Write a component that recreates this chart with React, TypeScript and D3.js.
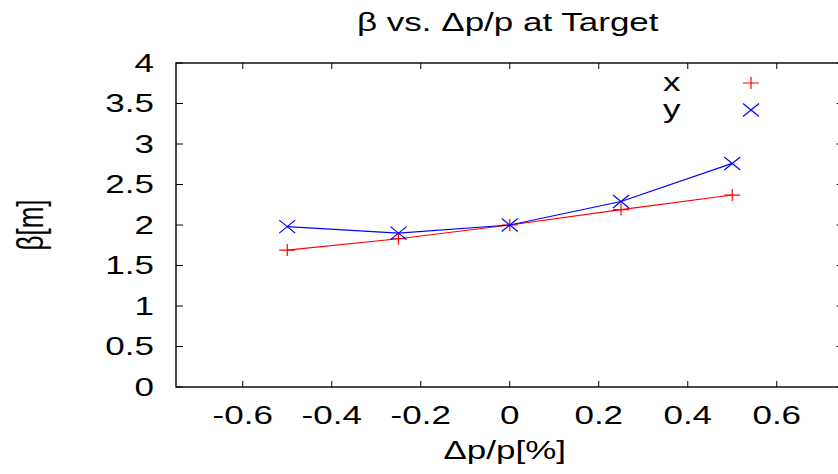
import React from "react";
import * as d3 from "d3";

const dpValues = [-0.5, -0.25, 0, 0.25, 0.5];
const betaX = [1.69, 1.83, 2.0, 2.19, 2.37];
const betaY = [1.98, 1.9, 2.0, 2.29, 2.76];
const xTicks = [-0.6, -0.4, -0.2, 0, 0.2, 0.4, 0.6];
const yTicks = [0, 0.5, 1, 1.5, 2, 2.5, 3, 3.5, 4];
const seriesNames = ["x", "y"];
const titleText = "β vs. Δp/p at Target";
const xLabelText = "Δp/p[%]";
const yLabelText = "β[m]";

const W = 838;
const H = 474;
const FONT = "'Liberation Sans', Arial, Helvetica, sans-serif";
const FS = 25;
const SX = 1.4;

const plusPath = (cx: number, cy: number) =>
  `M${cx - 8},${cy}H${cx + 8}M${cx},${cy - 6}V${cy + 6}`;
const crossPath = (cx: number, cy: number) =>
  `M${cx - 8},${cy - 6.5}L${cx + 8},${cy + 6.5}M${cx - 8},${cy + 6.5}L${cx + 8},${cy - 6.5}`;

function SText({ x, y, anchor, children }: any) {
  return (
    <text
      transform={`translate(${x},${y}) scale(${SX},1)`}
      textAnchor={anchor}
      fontFamily={FONT}
      fontSize={FS}
      fill="#000"
    >
      {children}
    </text>
  );
}

export default function App() {
  const x = d3.scaleLinear().domain([-0.75, 0.75]).range([176, 843.5]);
  const y = d3.scaleLinear().domain([0, 4]).range([387, 63]);
  const left = x(-0.75);
  const right = x(0.75);
  const top = y(4);
  const bottom = y(0);

  const line = d3
    .line<[number, number]>()
    .x((d) => x(d[0]))
    .y((d) => y(d[1]));
  const dataX: [number, number][] = dpValues.map((v, i) => [v, betaX[i]]);
  const dataY: [number, number][] = dpValues.map((v, i) => [v, betaY[i]]);

  const fmt = (v: number) => (v === 0 ? "0" : String(v));

  return (
    <svg
      width={W}
      height={H}
      style={{ position: "absolute", left: 0, top: 0, display: "block", background: "#fff" }}
    >
      <rect x={0} y={0} width={W} height={H} fill="#fff" />
      {/* title */}
      <SText x={(left + right) / 2 - 2} y={31} anchor="middle">
        {titleText}
      </SText>
      {/* ticks */}
      {xTicks.map((t) => (
        <g key={"xt" + t}>
          <line x1={x(t)} x2={x(t)} y1={bottom} y2={bottom - 6} stroke="#000" strokeWidth={1} />
          <line x1={x(t)} x2={x(t)} y1={top} y2={top + 6} stroke="#000" strokeWidth={1} />
          <SText x={x(t)} y={424} anchor="middle">
            {fmt(t)}
          </SText>
        </g>
      ))}
      {yTicks.map((t) => (
        <g key={"yt" + t}>
          <line x1={left} x2={left + 7} y1={y(t)} y2={y(t)} stroke="#000" strokeWidth={1} />
          <line x1={right} x2={right - 7} y1={y(t)} y2={y(t)} stroke="#000" strokeWidth={1} />
          <SText x={154} y={y(t) + 8.5} anchor="end">
            {fmt(t)}
          </SText>
        </g>
      ))}
      {/* frame */}
      <rect
        x={left}
        y={top}
        width={right - left}
        height={bottom - top}
        fill="none"
        stroke="#000"
        strokeWidth={1.4}
      />
      {/* axis labels */}
      <SText x={(left + right) / 2 - 5} y={459} anchor="middle">
        {xLabelText}
      </SText>
      <text
        transform={`translate(43,225) scale(${SX},1) rotate(-90)`}
        textAnchor="middle"
        fontFamily={FONT}
        fontSize={26}
        fill="#000"
      >
        {yLabelText}
      </text>
      {/* series */}
      <path d={line(dataX) || ""} fill="none" stroke="#ff0000" strokeWidth={1.2} />
      {dataX.map((d, i) => (
        <path key={"px" + i} d={plusPath(x(d[0]), y(d[1]))} stroke="#ff0000" strokeWidth={1.2} fill="none" />
      ))}
      <path d={line(dataY) || ""} fill="none" stroke="#0000ff" strokeWidth={1.2} />
      {dataY.map((d, i) => (
        <path key={"py" + i} d={crossPath(x(d[0]), y(d[1]))} stroke="#0000ff" strokeWidth={1.2} fill="none" />
      ))}
      {/* legend */}
      <SText x={663} y={91} anchor="start">
        {seriesNames[0]}
      </SText>
      <path d={plusPath(751, 83)} stroke="#ff0000" strokeWidth={1.2} fill="none" />
      <SText x={663} y={118} anchor="start">
        {seriesNames[1]}
      </SText>
      <path d={crossPath(751, 110)} stroke="#0000ff" strokeWidth={1.2} fill="none" />
    </svg>
  );
}
